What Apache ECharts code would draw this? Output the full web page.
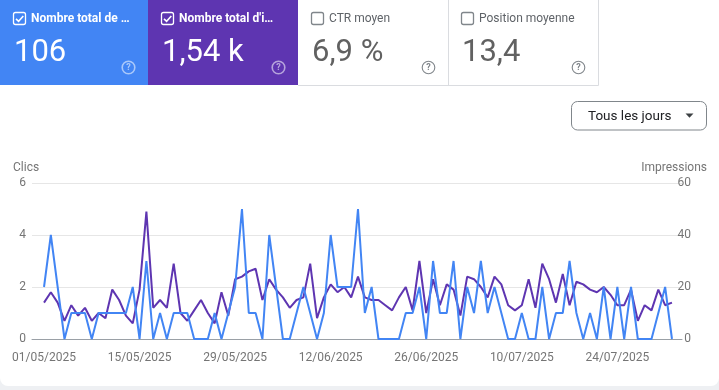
<!DOCTYPE html>
<html><head><meta charset="utf-8">
<script src="https://cdn.jsdelivr.net/npm/echarts@6/dist/echarts.min.js"></script>
<style>html,body{margin:0;padding:0;background:#fff;}#c{width:719px;height:390px;}</style>
</head><body><div id="c"></div>
<script>
// Daily data 01/05/2025 .. 01/08/2025 (93 days)
const clicks = [2,4,2,0,1,1,1,0,1,1, 1,1,1,2,0,3,0,1,0,1, 1,1,0,0,0,1,0,1,2,5, 1,1,0,4,2,0,0,1,2,1,
  0,1,4,2,2,2,5,1,2,0, 0,0,0,1,1,2,0,3,1,1, 3,0,2,1,3,1,2,1,0,0, 1,0,0,2,0,1,1,3,1,0,
  1,0,2,0,2,0,2,0,0,0, 1,2,0];
const impressions = [14,18,14,7,13,9,12,7,10,8, 19,15,9,6,19,49,12,15,12,29, 10,7,11,15,10,6,18,9,23,24,
  26,27,15,23,19,16,12,15,16,29, 8,16,21,18,20,16,24,16,15,15, 13,11,16,20,11,30,10,23,13,21,
  19,9,24,23,20,16,24,21,13,11, 13,23,12,29,23,14,25,13,22,21, 19,18,20,17,13,13,19,7,13,11,
  19,13,14];
const tickIndices = [0,14,28,42,56,70,84];
const tickLabels = ['01/05/2025','15/05/2025','29/05/2025','12/06/2025','26/06/2025','10/07/2025','24/07/2025'];
const cardLabels = ['Nombre total de \u2026', "Nombre total d'i\u2026", 'CTR moyen', 'Position moyenne'];
const cardValues = ['106', '1,54 k', '6,9 %', '13,4'];

const chart = echarts.init(document.getElementById('c'), null, {renderer:'canvas'});
const FONT = 'Roboto, "Noto Sans", sans-serif';
const BLUE = '#4285F4', PURPLE = '#5E35B1', GREY = '#5f6368';

const g = [];
g.push({type:'rect', z:-100, shape:{x:0,y:0,width:719,height:386,r:[0,0,8,8]}, style:{fill:'#ffffff'}});
const cards = [
  {x:0, w:148, bg:BLUE, fg:'#ffffff', checked:true, icon:'rgba(255,255,255,0.55)'},
  {x:148, w:150, bg:PURPLE, fg:'#ffffff', checked:true, icon:'rgba(255,255,255,0.55)'},
  {x:298, w:150, bg:'#ffffff', fg:GREY, checked:false, icon:'#80868b'},
  {x:448, w:150, bg:'#ffffff', fg:GREY, checked:false, icon:'#80868b'}
];
cards.forEach((c,k)=>{
  g.push({type:'rect', shape:{x:c.x,y:0,width:c.w,height:85}, style:{fill:c.bg}});
  g.push({type:'rect', shape:{x:c.x+13.5,y:12.5,width:12,height:12,r:2}, style:{fill:'none', stroke:c.checked?'#fff':'#80868b', lineWidth:1.3}});
  if (c.checked) g.push({type:'polyline', shape:{points:[[c.x+16,18.8],[c.x+18.6,21.3],[c.x+23.3,16]]}, style:{fill:'none', stroke:'#fff', lineWidth:1.6}});
  g.push({type:'text', x:c.x+31, y:19, style:{text:cardLabels[k], font:(c.checked?'bold ':'')+'12px '+FONT, fill:c.fg, textAlign:'left', textVerticalAlign:'middle'}});
  g.push({type:'text', x:c.x+14, y:53, style:{text:cardValues[k], font:'31px '+FONT, fill:c.checked?'#fff':'#616161', textAlign:'left', textVerticalAlign:'middle'}});
  g.push({type:'circle', shape:{cx:c.x+c.w-19.5, cy:67.5, r:6.3}, style:{fill:'none', stroke:c.icon, lineWidth:c.checked?1.6:1.1}});
  g.push({type:'text', x:c.x+c.w-19.5, y:67.8, style:{text:'?', font:'bold 9px '+FONT, fill:c.icon, textAlign:'center', textVerticalAlign:'middle'}});
});
g.push({type:'line', shape:{x1:298,y1:85.5,x2:598.5,y2:85.5}, style:{stroke:'#dadce0', lineWidth:1}});
g.push({type:'line', shape:{x1:448.5,y1:0,x2:448.5,y2:85}, style:{stroke:'#dadce0', lineWidth:1}});
g.push({type:'line', shape:{x1:598.5,y1:0,x2:598.5,y2:85.5}, style:{stroke:'#dadce0', lineWidth:1}});
g.push({type:'rect', shape:{x:571.5,y:101.5,width:135,height:28.5,r:6}, style:{fill:'#fff', stroke:'#80868b', lineWidth:1}});
g.push({type:'text', x:588, y:116.5, style:{text:'Tous les jours', font:'13.5px '+FONT, fill:'#202124', textAlign:'left', textVerticalAlign:'middle'}});
g.push({type:'polygon', shape:{points:[[685.5,113.5],[693.5,113.5],[689.5,117.8]]}, style:{fill:'#3c4043'}});
g.push({type:'text', x:13, y:168, style:{text:'Clics', font:'12px '+FONT, fill:'#757575', textAlign:'left', textVerticalAlign:'middle'}});
g.push({type:'text', x:707, y:168, style:{text:'Impressions', font:'12px '+FONT, fill:'#757575', textAlign:'right', textVerticalAlign:'middle'}});

chart.setOption({
  backgroundColor:'#eef0f3',
  animation:false,
  textStyle:{fontFamily:FONT},
  grid:{left:32, right:37, top:183, bottom:51, containLabel:false, outerBoundsMode:'none'},
  xAxis:{type:'value', min:-1.76, max:93.47,
    axisLine:{show:true, onZero:false, lineStyle:{color:'#9aa0a6', width:1}},
    axisTick:{show:false}, splitLine:{show:false},
    axisLabel:{customValues:tickIndices, formatter:(v)=>tickLabels[tickIndices.indexOf(Math.round(v))], color:'#757575', fontSize:12, margin:13}
  },
  yAxis:[
    {type:'value', min:0, max:6, interval:2, position:'left', axisLine:{show:false}, axisTick:{show:false},
     splitLine:{lineStyle:{color:'#e6e6e6', width:1}}, axisLabel:{color:'#757575', fontSize:12, margin:6}},
    {type:'value', min:0, max:60, interval:20, position:'right', axisLine:{show:false}, axisTick:{show:false},
     splitLine:{show:false}, axisLabel:{color:'#757575', fontSize:12, margin:9, align:'right'}}
  ],
  series:[
    {type:'line', yAxisIndex:1, data:impressions.map((v,i)=>[i,v]), showSymbol:false, symbol:'none',
     lineStyle:{color:PURPLE, width:2}, itemStyle:{color:PURPLE}, z:3},
    {type:'line', yAxisIndex:0, data:clicks.map((v,i)=>[i,v]), showSymbol:false, symbol:'none',
     lineStyle:{color:BLUE, width:2}, itemStyle:{color:BLUE}, z:4}
  ],
  graphic:{elements:g}
});
</script></body></html>
